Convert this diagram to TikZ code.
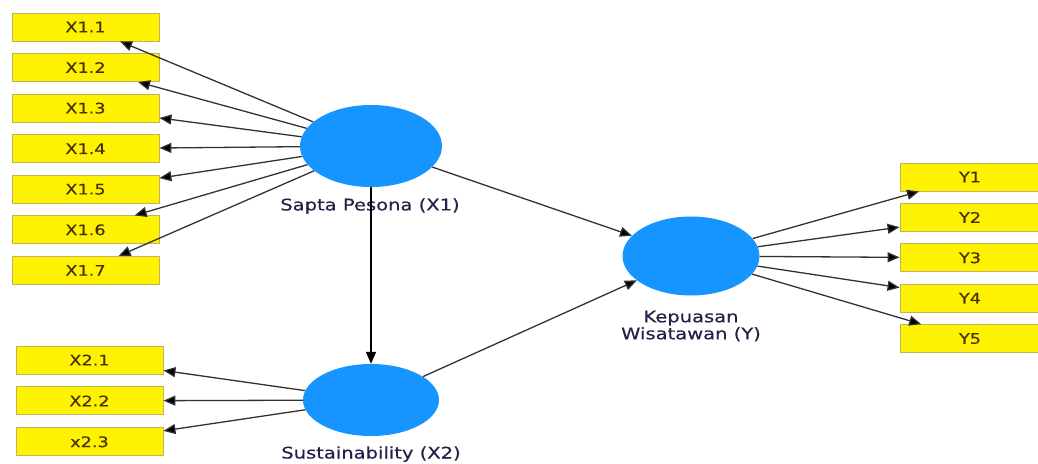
\documentclass[tikz,border=0pt]{standalone}
\usepackage{fontspec}
\newfontfamily\plsfont[FakeStretch=1.22,FakeBold=0.4]{DejaVu Sans}
\usetikzlibrary{positioning,shapes.geometric,arrows.meta}
\definecolor{lvblue}{RGB}{22,148,255}
\definecolor{boxline}{RGB}{190,180,90}
\definecolor{boxtext}{RGB}{70,50,10}
\definecolor{lvtext}{RGB}{40,30,70}
\definecolor{lineclr}{RGB}{50,50,50}

\begin{document}
\begin{tikzpicture}[x=1pt,y=1pt,
    latent/.style={ellipse,fill=lvblue,inner sep=0pt},
    indicator/.style={rectangle,draw=boxline,line width=0.9pt,fill=yellow,
        minimum width=147pt,minimum height=28pt,inner sep=0pt,text=boxtext,
        font=\plsfont\fontsize{14.5}{16}\selectfont},
    lvname/.style={text=lvtext,align=center,font=\plsfont\fontsize{16}{17}\selectfont},
    loading/.style={draw=lineclr,line width=1.3pt,-{Triangle[length=12pt,width=10pt,fill=black]}},
    inner/.style={loading,draw=black,line width=1.6pt}]
    \useasboundingbox (0,0) rectangle (1038,-463);
    % latent variables
    \node[latent,minimum width=142pt,minimum height=82pt] (sp) at (371,-146) {};
    \node[latent,minimum width=136pt,minimum height=72pt] (su) at (371,-400) {};
    \node[latent,minimum width=137pt,minimum height=79pt] (kw) at (691,-256) {};
    \node[lvname] (spname) at (370,-206) {Sapta Pesona (X1)};
    \node[lvname,anchor=base] (suname) at (371,-458.5) {Sustainability (X2)};
    \node[lvname] (kwname) at (691,-326) {Kepuasan\\Wisatawan (Y)};
    % indicators
    \node[indicator] (x11) at (85.5,-27) {X1.1};
    \foreach \i [count=\j from 1] in {2,...,7}
        \node[indicator,below=11.67pt of x1\j] (x1\i) {X1.\i};
    \node[indicator] (x21) at (89.5,-360) {X2.1};
    \node[indicator,below=12pt of x21] (x22) {X2.2};
    \node[indicator,below=12pt of x22] (x23) {x2.3};
    \node[indicator,minimum width=140pt] (y1) at (970,-177) {Y1};
    \foreach \i [count=\j from 1] in {2,...,5}
        \node[indicator,minimum width=140pt,below=11.5pt of y\j] (y\i) {Y\i};
    % loadings
    \foreach \i in {1,...,7}
        \draw[loading] (sp) -- (x1\i);
    \foreach \i in {1,2,3}
        \draw[loading] (su) -- (x2\i);
    \foreach \i in {1,...,5}
        \draw[loading] (kw) -- (y\i);
    % structural paths
    \draw[inner] (sp) -- (su);
    \draw[loading] (sp) -- (kw);
    \draw[loading] (su) -- (kw);
\end{tikzpicture}
\end{document}
